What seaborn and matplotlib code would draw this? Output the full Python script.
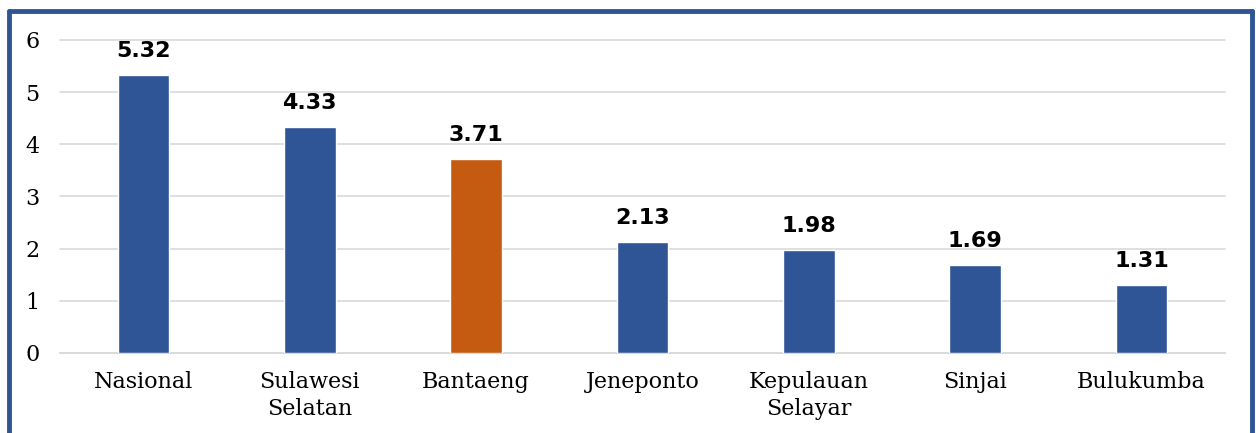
import matplotlib
matplotlib.use("Agg")
import matplotlib.pyplot as plt
import pandas as pd
import seaborn as sns
from matplotlib.lines import Line2D

regions = ["Nasional", "Sulawesi\nSelatan", "Bantaeng", "Jeneponto",
           "Kepulauan\nSelayar", "Sinjai", "Bulukumba"]
values = [5.32, 4.33, 3.71, 2.13, 1.98, 1.69, 1.31]
highlight = "Bantaeng"

blue = "#2F5597"
orange = "#C55A11"

df = pd.DataFrame({"region": regions, "value": values})
palette = {r: (orange if r == highlight else blue) for r in regions}

sns.set_style("white")
fig = plt.figure(figsize=(12.56, 4.33), dpi=100)
ax = fig.add_axes([0.048, 0.185, 0.927, 0.723])

sns.barplot(data=df, x="region", y="value", hue="region", palette=palette,
            width=0.31, saturation=1, legend=False, ax=ax, zorder=3)

ax.set_ylim(0, 6)
ax.set_yticks(range(0, 7))
ax.yaxis.grid(True, color="#D9D9D9", linewidth=1.2, zorder=0)
for gl in ax.get_ygridlines():
    gl.set_clip_on(False)
ax.set_axisbelow(True)
ax.set_xlabel("")
ax.set_ylabel("")
for s in ["top", "right", "left"]:
    ax.spines[s].set_visible(False)
ax.spines["bottom"].set_color("#D9D9D9")
ax.spines["bottom"].set_linewidth(1.2)
ax.tick_params(axis="both", length=0, labelcolor="black")
ax.tick_params(axis="y", pad=15)
ax.tick_params(axis="x", pad=13)
for lbl in ax.get_xticklabels() + ax.get_yticklabels():
    lbl.set_fontfamily("DejaVu Serif")
    lbl.set_fontsize(16)
for lbl in ax.get_xticklabels():
    lbl.set_linespacing(1.3)

for c in ax.containers:
    ax.bar_label(c, fmt="%.2f", padding=10, fontsize=16, fontweight="bold",
                 color="black")

# blue frame (bottom edge cut off)
kw = dict(color=blue, linewidth=3.5, transform=fig.transFigure)
fig.add_artist(Line2D([0.0068, 0.0068], [0.0, 0.9745], **kw))
fig.add_artist(Line2D([0.9968, 0.9968], [0.0, 0.9745], **kw))
fig.add_artist(Line2D([0.0068, 0.9968], [0.9745, 0.9745], **kw))

fig.savefig("out.png", dpi=100)
